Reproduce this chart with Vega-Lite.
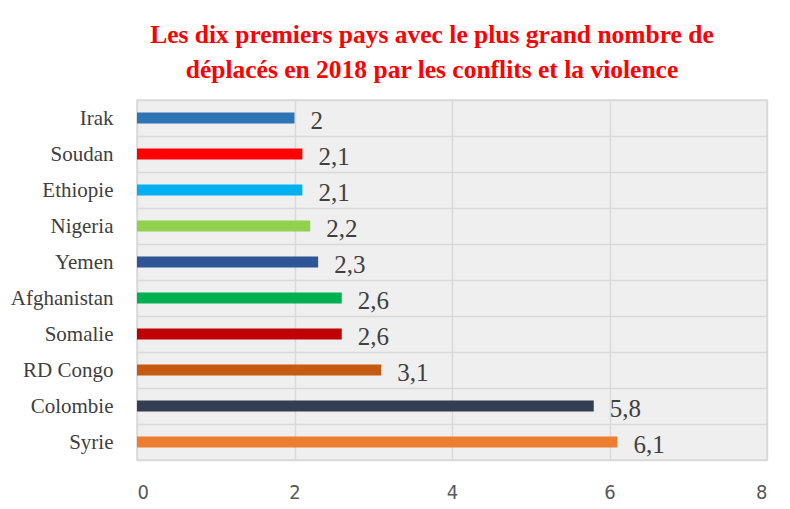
{
  "$schema": "https://vega.github.io/schema/vega-lite/v6.json",
  "width": 630,
  "height": 360,
  "autosize": {"type": "none"},
  "padding": {"left": 137, "top": 100, "right": 23, "bottom": 49},
  "background": "white",
  "title": {
    "text": ["Les dix premiers pays avec le plus grand nombre de", "déplacés en 2018 par les conflits et la violence"],
    "font": "Liberation Serif",
    "fontSize": 25.5,
    "fontWeight": "bold",
    "color": "#FF0000",
    "lineHeight": 35,
    "anchor": "middle",
    "dx": -20,
    "offset": 6
  },
  "data": {
    "values": [
      {"pays": "Irak", "valeur": 2.0, "label": "2", "couleur": "#2E75B6"},
      {"pays": "Soudan", "valeur": 2.1, "label": "2,1", "couleur": "#FF0000"},
      {"pays": "Ethiopie", "valeur": 2.1, "label": "2,1", "couleur": "#00B0F0"},
      {"pays": "Nigeria", "valeur": 2.2, "label": "2,2", "couleur": "#92D050"},
      {"pays": "Yemen", "valeur": 2.3, "label": "2,3", "couleur": "#2F5597"},
      {"pays": "Afghanistan", "valeur": 2.6, "label": "2,6", "couleur": "#00B050"},
      {"pays": "Somalie", "valeur": 2.6, "label": "2,6", "couleur": "#C00000"},
      {"pays": "RD Congo", "valeur": 3.1, "label": "3,1", "couleur": "#C55A11"},
      {"pays": "Colombie", "valeur": 5.8, "label": "5,8", "couleur": "#333F50"},
      {"pays": "Syrie", "valeur": 6.1, "label": "6,1", "couleur": "#ED7D31"}
    ]
  },
  "encoding": {
    "y": {
      "field": "pays",
      "type": "nominal",
      "sort": ["Irak", "Soudan", "Ethiopie", "Nigeria", "Yemen", "Afghanistan", "Somalie", "RD Congo", "Colombie", "Syrie"],
      "scale": {"paddingInner": 0, "paddingOuter": 0},
      "axis": {
        "title": null,
        "grid": true,
        "tickBand": "extent",
        "gridColor": "#d9d9d9",
        "gridWidth": 1.5,
        "ticks": false,
        "domain": false,
        "labelFont": "Liberation Serif",
        "labelFontSize": 21,
        "labelColor": "#404040",
        "labelPadding": 24
      }
    },
    "x": {
      "field": "valeur",
      "type": "quantitative",
      "scale": {"domain": [0, 8]},
      "axis": {
        "title": null,
        "values": [0, 2, 4, 6, 8],
        "grid": true,
        "gridColor": "#d9d9d9",
        "gridWidth": 1.5,
        "ticks": false,
        "domain": false,
        "labelFont": "Liberation Sans Narrow, DejaVu Sans Condensed",
        "labelFontSize": 20,
        "labelColor": "#595959",
        "labelPadding": 22
      }
    }
  },
  "layer": [
    {
      "mark": {"type": "bar", "size": 11},
      "encoding": {
        "color": {"field": "couleur", "type": "nominal", "scale": null, "legend": null}
      }
    },
    {
      "mark": {"type": "text", "align": "left", "baseline": "middle", "dx": 16, "dy": 3, "font": "Liberation Serif", "fontSize": 25, "color": "#404040"},
      "encoding": {"text": {"field": "label", "type": "nominal"}}
    }
  ],
  "config": {
    "view": {"stroke": "#d9d9d9", "strokeWidth": 1.5, "fill": "#efefef"}
  }
}
